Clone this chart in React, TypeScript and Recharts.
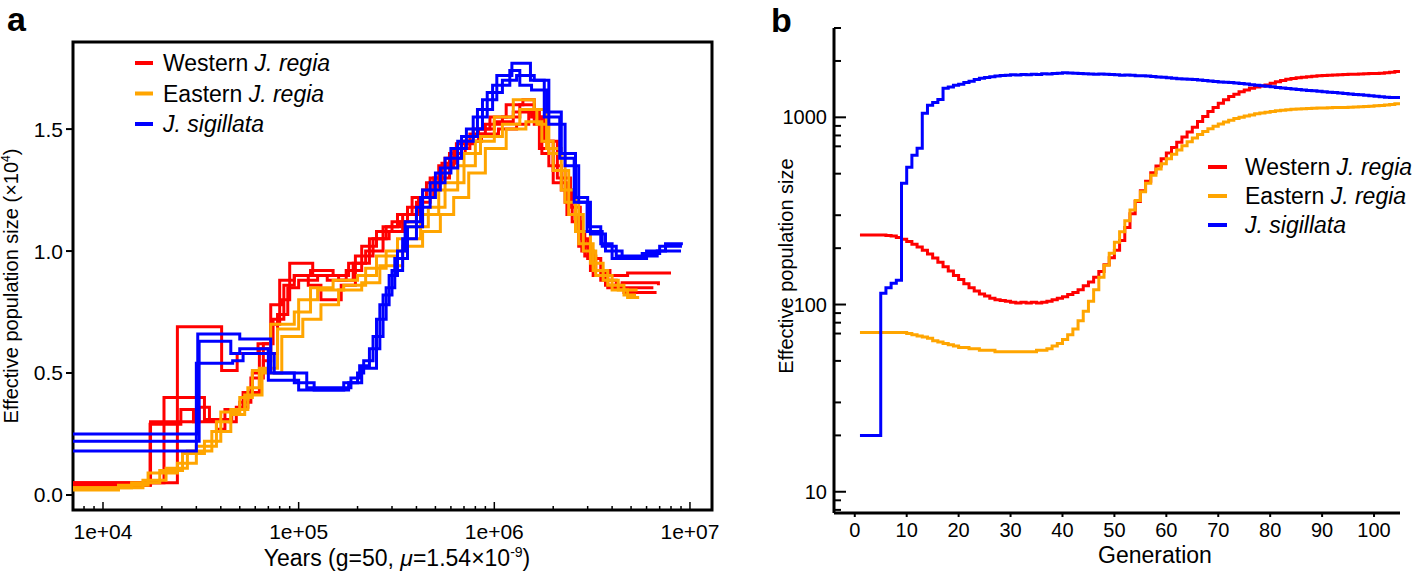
import React from 'react';
import { LineChart, Line, XAxis, YAxis, ReferenceArea, Legend } from 'recharts';

const FONT = '"Liberation Sans", Arial, Helvetica, sans-serif';

const popColors = ['#ff0000', '#ffa500', '#0000ff'];
const popPrefixes = ['Western ', 'Eastern ', ''];
const popSpecies = ['J. regia', 'J. regia', 'J. sigillata'];

// ---- panel a: PSMC runs, [years, Ne (x10^4)] ----
const westernRuns = [
  [[7030, 0.05], [24000, 0.69], [40400, 0.51], [48500, 0.58], [62000, 0.62], [72000, 0.78], [82000, 0.8], [90000, 0.95], [118000, 0.9], [140000, 0.88], [175000, 0.92], [210000, 1.02], [250000, 1.08], [300000, 1.12], [360000, 1.18], [430000, 1.25], [520000, 1.35], [620000, 1.42], [750000, 1.48], [900000, 1.52], [1100000, 1.55], [1350000, 1.6], [1600000, 1.55], [1800000, 1.45], [2000000, 1.33], [2300000, 1.2], [2600000, 1.08], [2900000, 0.98], [3300000, 0.92], [3900000, 0.9], [4800000, 0.91], [8000000, 0.91]],
  [[7030, 0.04], [17500, 0.3], [31000, 0.36], [35000, 0.31], [44000, 0.3], [48000, 0.36], [55000, 0.42], [63000, 0.6], [70000, 0.58], [78000, 0.74], [88000, 0.85], [100000, 0.88], [125000, 0.9], [160000, 0.88], [190000, 0.95], [230000, 1.05], [280000, 1.1], [330000, 1.12], [400000, 1.2], [470000, 1.3], [560000, 1.38], [680000, 1.45], [830000, 1.5], [1000000, 1.53], [1250000, 1.57], [1550000, 1.55], [1750000, 1.4], [2000000, 1.28], [2350000, 1.15], [2700000, 1.02], [3100000, 0.92], [3700000, 0.86], [4500000, 0.87], [6900000, 0.86]],
  [[7030, 0.05], [20500, 0.4], [33000, 0.31], [45500, 0.35], [52000, 0.42], [58000, 0.5], [66000, 0.62], [74000, 0.72], [84000, 0.86], [95000, 0.9], [112000, 0.86], [130000, 0.8], [165000, 0.86], [195000, 0.98], [240000, 1.05], [290000, 1.08], [340000, 1.15], [410000, 1.22], [490000, 1.3], [590000, 1.4], [710000, 1.45], [860000, 1.48], [1050000, 1.5], [1300000, 1.52], [1500000, 1.58], [1700000, 1.42], [1900000, 1.35], [2200000, 1.25], [2500000, 1.12], [2800000, 1.0], [3200000, 0.9], [3800000, 0.85], [4600000, 0.83], [6750000, 0.83]],
  [[7030, 0.04], [17400, 0.29], [25000, 0.35], [29000, 0.3], [38000, 0.27], [42000, 0.35], [50000, 0.38], [57000, 0.48], [66000, 0.55], [72000, 0.7], [80000, 0.88], [95000, 0.9], [115000, 0.92], [150000, 0.9], [180000, 0.95], [220000, 1.0], [270000, 1.1], [320000, 1.15], [380000, 1.22], [450000, 1.28], [540000, 1.36], [640000, 1.44], [780000, 1.5], [950000, 1.55], [1150000, 1.6], [1400000, 1.62], [1600000, 1.52], [1850000, 1.45], [2100000, 1.3], [2450000, 1.18], [2750000, 1.05], [3000000, 0.97], [3500000, 0.88], [4200000, 0.85], [5000000, 0.85], [6500000, 0.85]],
];

const easternRuns = [
  [[7030, 0.03], [14000, 0.05], [19500, 0.1], [25500, 0.17], [33000, 0.22], [40000, 0.34], [50000, 0.4], [58000, 0.51], [72000, 0.7], [95000, 0.75], [115000, 0.85], [150000, 0.88], [200000, 0.9], [250000, 0.98], [320000, 1.05], [420000, 1.15], [520000, 1.25], [650000, 1.35], [800000, 1.45], [1000000, 1.55], [1250000, 1.62], [1600000, 1.58], [1850000, 1.42], [2200000, 1.25], [2600000, 1.08], [3100000, 0.95], [3600000, 0.88], [4300000, 0.84], [5400000, 0.84]],
  [[7030, 0.02], [12000, 0.04], [17000, 0.09], [24000, 0.13], [30000, 0.2], [38000, 0.3], [45000, 0.35], [55000, 0.44], [63000, 0.52], [78000, 0.68], [100000, 0.8], [125000, 0.84], [170000, 0.86], [220000, 0.93], [280000, 1.0], [360000, 1.1], [460000, 1.18], [560000, 1.28], [700000, 1.4], [850000, 1.47], [1100000, 1.52], [1350000, 1.58], [1650000, 1.52], [1900000, 1.4], [2300000, 1.2], [2700000, 1.03], [3200000, 0.92], [3800000, 0.86], [4600000, 0.82], [5300000, 0.82]],
  [[7030, 0.03], [16000, 0.06], [21000, 0.11], [27000, 0.18], [36000, 0.26], [45000, 0.33], [53000, 0.41], [65000, 0.5], [82000, 0.65], [105000, 0.72], [130000, 0.78], [160000, 0.84], [210000, 0.87], [260000, 0.94], [340000, 1.02], [430000, 1.08], [530000, 1.15], [620000, 1.22], [740000, 1.32], [900000, 1.42], [1150000, 1.5], [1450000, 1.53], [1750000, 1.45], [2000000, 1.33], [2400000, 1.15], [2850000, 1.0], [3300000, 0.9], [4000000, 0.84], [4800000, 0.81], [5500000, 0.81]],
];

const sigillataRuns = [
  [[7030, 0.25], [30500, 0.66], [50000, 0.64], [72000, 0.5], [110000, 0.44], [160000, 0.44], [185000, 0.48], [205000, 0.53], [230000, 0.6], [260000, 0.78], [290000, 0.9], [320000, 1.0], [350000, 1.12], [420000, 1.22], [500000, 1.32], [600000, 1.42], [720000, 1.5], [870000, 1.62], [1030000, 1.72], [1230000, 1.77], [1530000, 1.7], [1800000, 1.55], [2160000, 1.38], [2560000, 1.2], [2980000, 1.08], [3560000, 1.02], [4200000, 0.98], [5700000, 0.99], [7000000, 1.02], [9100000, 1.02]],
  [[7030, 0.22], [31000, 0.63], [45000, 0.58], [50000, 0.6], [70000, 0.47], [100000, 0.43], [170000, 0.46], [200000, 0.5], [215000, 0.55], [240000, 0.65], [270000, 0.82], [300000, 0.92], [340000, 1.05], [400000, 1.18], [470000, 1.28], [560000, 1.38], [680000, 1.47], [820000, 1.58], [980000, 1.68], [1200000, 1.74], [1350000, 1.68], [1550000, 1.66], [1850000, 1.57], [2200000, 1.4], [2600000, 1.22], [3000000, 1.1], [3500000, 1.03], [4000000, 0.97], [6000000, 1.0], [7500000, 1.03], [9200000, 1.03]],
  [[7030, 0.18], [30000, 0.54], [46000, 0.55], [52000, 0.58], [75000, 0.5], [95000, 0.46], [120000, 0.43], [180000, 0.46], [210000, 0.52], [250000, 0.72], [280000, 0.85], [310000, 0.97], [360000, 1.1], [430000, 1.25], [530000, 1.34], [650000, 1.45], [780000, 1.55], [920000, 1.65], [1100000, 1.7], [1300000, 1.72], [1600000, 1.7], [1900000, 1.52], [2300000, 1.35], [2700000, 1.2], [3100000, 1.07], [3700000, 1.0], [4500000, 0.97], [5800000, 0.98], [6800000, 1.0], [9000000, 1.0]],
];

const yearTicks = [
  8000, 9000, 10000, 20000, 30000, 40000, 50000, 60000, 70000, 80000, 90000,
  100000, 200000, 300000, 400000, 500000, 600000, 700000, 800000, 900000,
  1000000, 2000000, 3000000, 4000000, 5000000, 6000000, 7000000, 8000000, 9000000, 10000000,
];
const yearMajorTicks = [10000, 100000, 1000000, 10000000];
const yearMajorLabels = ['1e+04', '1e+05', '1e+06', '1e+07'];
const neTicksA = [0, 0.5, 1.0, 1.5];

// ---- panel b: Ne per generation ----
const generations = [
  1, 2, 3, 4, 5, 6, 7, 8, 9, 10, 11, 12, 13, 14, 15, 16, 17, 18, 19, 20,
  21, 22, 23, 24, 25, 26, 27, 28, 29, 30, 31, 32, 33, 34, 35, 36, 37, 38, 39, 40,
  41, 42, 43, 44, 45, 46, 47, 48, 49, 50, 51, 52, 53, 54, 55, 56, 57, 58, 59, 60,
  61, 62, 63, 64, 65, 66, 67, 68, 69, 70, 71, 72, 73, 74, 75, 76, 77, 78, 79, 80,
  81, 82, 83, 84, 85, 86, 87, 88, 89, 90, 91, 92, 93, 94, 95, 96, 97, 98, 99, 100,
  101, 102, 103, 104, 105,
];
const westernNe = [
  235, 235, 235, 235, 235, 234, 232, 228, 223, 217,
  210, 203, 195, 186, 177, 168, 159, 151, 143, 136,
  129, 123, 118, 114, 111, 108, 106, 105, 104, 103,
  102, 103, 102, 103, 102, 103, 104, 106, 108, 110,
  113, 116, 120, 126, 132, 140, 150, 163, 178, 195,
  220, 258, 305, 355, 405, 455, 505, 550, 600, 645,
  690, 735, 785, 835, 885, 950, 1010, 1075, 1130, 1190,
  1240, 1290, 1330, 1370, 1400, 1430, 1450, 1470, 1490, 1520,
  1550, 1575, 1595, 1610, 1625, 1635, 1645, 1655, 1665, 1672,
  1680, 1685, 1690, 1695, 1698, 1700, 1705, 1708, 1712, 1716,
  1720, 1730, 1740, 1755, 1765,
];
const easternNe = [
  71, 71, 71, 71, 71, 71, 71, 71, 71, 70,
  69, 68, 67, 66, 64, 63, 62, 61, 60, 59,
  59, 58, 58, 57, 57, 57, 56, 56, 56, 56,
  56, 56, 56, 56, 57, 57, 58, 60, 62, 65,
  69, 74, 82, 92, 104, 120, 140, 162, 188, 215,
  245, 280, 320, 360, 400, 445, 490, 530, 565, 600,
  635, 670, 705, 740, 775, 810, 840, 870, 895, 920,
  945, 965, 985, 1000, 1015, 1030, 1045, 1055, 1065, 1075,
  1085, 1092, 1098, 1104, 1108, 1112, 1115, 1118, 1120, 1122,
  1125, 1127, 1128, 1130, 1133, 1136, 1140, 1143, 1147, 1152,
  1158, 1165, 1172, 1180, 1188,
];
const sigillataNe = [
  20, 20, 20, 20, 115, 123, 130, 135, 444, 541,
  627, 684, 1050, 1159, 1200, 1247, 1428, 1450, 1482, 1500,
  1537, 1560, 1590, 1615, 1630, 1645, 1660, 1675, 1680, 1690,
  1685, 1695, 1690, 1700, 1695, 1710, 1705, 1715, 1720, 1730,
  1725, 1720, 1715, 1710, 1705, 1700, 1705, 1700, 1695, 1690,
  1680, 1685, 1680, 1670, 1665, 1660, 1650, 1640, 1635, 1625,
  1615, 1605, 1600, 1595, 1590, 1585, 1575, 1565, 1555, 1545,
  1540, 1535, 1525, 1515, 1505, 1495, 1485, 1475, 1465, 1455,
  1445, 1435, 1425, 1418, 1410, 1400, 1392, 1385, 1378, 1370,
  1362, 1355, 1348, 1340, 1333, 1325, 1318, 1310, 1302, 1295,
  1288, 1280, 1278, 1278, 1278,
];
const generationTicks = [0, 10, 20, 30, 40, 50, 60, 70, 80, 90, 100];
const neTicksB = [8, 9, 10, 20, 30, 50, 70, 80, 90, 100, 200, 300, 500, 700, 800, 900, 1000, 2000, 3000];
const neMajorTicks = [10, 100, 1000];
const neMajorLabels = ['10', '100', '1000'];

const X_MIN_A = 7026;
const X_MAX_A = 12960000;
const Y_MIN_A = -0.0615;
const Y_MAX_A = 1.857;

const psmcSeries = [westernRuns, easternRuns, sigillataRuns].flatMap((runs, p) =>
  runs.map((run, i) => ({
    id: `pop${p}-run${i}`,
    color: popColors[p],
    points: run.map(([x, y]) => ({ x, y })),
  }))
);

const genRows = generations.map((g, i) => ({
  gen: g,
  western: westernNe[i],
  eastern: easternNe[i],
  sigillata: sigillataNe[i],
}));

const YearTick = (props: any) => {
  const { x, y, payload } = props;
  const idx = yearMajorTicks.indexOf(payload.value);
  const major = idx >= 0;
  return (
    <g>
      <line x1={x} x2={x} y1={y} y2={y - (major ? 8 : 4)} stroke="#000" strokeWidth={1.5} />
      {major && (
        <text x={x} y={y + 29} textAnchor="middle" fontSize={21} fontFamily={FONT} fill="#000">
          {yearMajorLabels[idx]}
        </text>
      )}
    </g>
  );
};

const NeTick = (props: any) => {
  const { x, y, payload } = props;
  const idx = neMajorTicks.indexOf(payload.value);
  const major = idx >= 0;
  return (
    <g>
      <line x1={x} x2={x + (major ? 12 : 7)} y1={y} y2={y} stroke="#000" strokeWidth={2} />
      {major && (
        <text x={x - 7} y={y + 7} textAnchor="end" fontSize={20} fontFamily={FONT} fill="#000">
          {neMajorLabels[idx]}
        </text>
      )}
    </g>
  );
};

const PopLegend = ({ marker, gap, rowGap }: { marker: number; gap: number; rowGap: number }) => (
  <svg width={260} height={100} style={{ display: 'block', overflow: 'visible' }}>
    {popColors.map((c, i) => (
      <g key={c}>
        <line x1={0} x2={marker} y1={15 + i * rowGap} y2={15 + i * rowGap} stroke={c} strokeWidth={4} />
        <text x={gap} y={23 + i * rowGap} fontSize={23} fontFamily={FONT} fill="#000">
          {popPrefixes[i]}
          <tspan fontStyle="italic">{popSpecies[i]}</tspan>
        </text>
      </g>
    ))}
  </svg>
);

export default function App() {
  return (
    <div style={{ position: 'absolute', left: 0, top: 0, width: 1424, height: 572, background: '#fff', fontFamily: FONT }}>
      <div style={{ position: 'absolute', left: 0, top: 0 }}>
        <LineChart width={730} height={572} margin={{ top: 42, right: 18, left: 0, bottom: 0 }}>
          <XAxis
            dataKey="x"
            type="number"
            scale="log"
            domain={[X_MIN_A, X_MAX_A]}
            allowDataOverflow
            ticks={yearTicks}
            interval={0}
            tick={(p: any) => <YearTick {...p} />}
            tickSize={0}
            tickMargin={0}
            tickLine={false}
            axisLine={false}
            height={62}
          />
          <YAxis
            type="number"
            domain={[Y_MIN_A, Y_MAX_A]}
            allowDataOverflow
            ticks={neTicksA}
            interval={0}
            tickFormatter={(v: number) => v.toFixed(1)}
            width={73}
            axisLine={false}
            tickLine={{ stroke: '#000', strokeWidth: 2 }}
            tickSize={7}
            tickMargin={3}
            tick={{ fill: '#000', fontSize: 21, fontFamily: FONT }}
          />
          <ReferenceArea
            x1={X_MIN_A}
            x2={X_MAX_A}
            y1={Y_MIN_A}
            y2={Y_MAX_A}
            fill="none"
            fillOpacity={0}
            stroke="#000"
            strokeWidth={3}
            ifOverflow="visible"
          />
          {psmcSeries.map((s) => (
            <Line
              key={s.id}
              data={s.points}
              dataKey="y"
              type="stepAfter"
              stroke={s.color}
              strokeWidth={3}
              dot={false}
              activeDot={false}
              isAnimationActive={false}
            />
          ))}
          <Legend
            verticalAlign="middle"
            align="center"
            wrapperStyle={{ left: 135, top: 48, width: 260 }}
            content={() => <PopLegend marker={18} gap={28} rowGap={30.5} />}
          />
        </LineChart>
      </div>

      <div style={{ position: 'absolute', left: 730, top: 0 }}>
        <LineChart width={694} height={572} data={genRows} margin={{ top: 28, right: 24, left: 0, bottom: 0 }}>
          <XAxis
            dataKey="gen"
            type="number"
            domain={[-4, 105]}
            allowDataOverflow
            ticks={generationTicks}
            interval={0}
            tickSize={4}
            tickMargin={6}
            height={59}
            axisLine={{ stroke: '#000', strokeWidth: 3 }}
            tickLine={{ stroke: '#000', strokeWidth: 2 }}
            tick={{ fill: '#000', fontSize: 20, fontFamily: FONT }}
          />
          <YAxis
            type="number"
            scale="log"
            domain={[7.7, 3000]}
            allowDataOverflow
            ticks={neTicksB}
            interval={0}
            tick={(p: any) => <NeTick {...p} />}
            tickSize={0}
            tickMargin={0}
            tickLine={false}
            width={104}
            axisLine={{ stroke: '#000', strokeWidth: 3 }}
          />
          <Line dataKey="western" type="stepAfter" stroke={popColors[0]} strokeWidth={3} dot={false} activeDot={false} isAnimationActive={false} />
          <Line dataKey="eastern" type="stepAfter" stroke={popColors[1]} strokeWidth={3} dot={false} activeDot={false} isAnimationActive={false} />
          <Line dataKey="sigillata" type="stepAfter" stroke={popColors[2]} strokeWidth={3} dot={false} activeDot={false} isAnimationActive={false} />
          <Legend
            verticalAlign="middle"
            align="center"
            wrapperStyle={{ left: 478, top: 152, width: 260 }}
            content={() => <PopLegend marker={19} gap={37} rowGap={29} />}
          />
        </LineChart>
      </div>

      <svg width={1424} height={572} style={{ position: 'absolute', left: 0, top: 0, pointerEvents: 'none' }}>
        <text x={7} y={31} fontSize={34} fontWeight="bold" fontFamily={FONT}>a</text>
        <text x={771} y={32} fontSize={34} fontWeight="bold" fontFamily={FONT}>b</text>
        <text x={397} y={566} textAnchor="middle" fontSize={23} fontFamily={FONT}>
          Years (g=50, <tspan fontStyle="italic">μ</tspan>=1.54×10
          <tspan dy={-9} fontSize={14}>-9</tspan>
          <tspan dy={9}>)</tspan>
        </text>
        <text transform="rotate(-90)" x={-286} y={18} textAnchor="middle" fontSize={20} fontFamily={FONT}>
          Effective population size (×10<tspan dy={-8} fontSize={12}>4</tspan>
          <tspan dy={8}>)</tspan>
        </text>
        <text x={1155} y={563} textAnchor="middle" fontSize={23} fontFamily={FONT}>Generation</text>
        <text transform="rotate(-90)" x={-266} y={793} textAnchor="middle" fontSize={20} fontFamily={FONT}>
          Effective population size
        </text>
      </svg>
    </div>
  );
}
